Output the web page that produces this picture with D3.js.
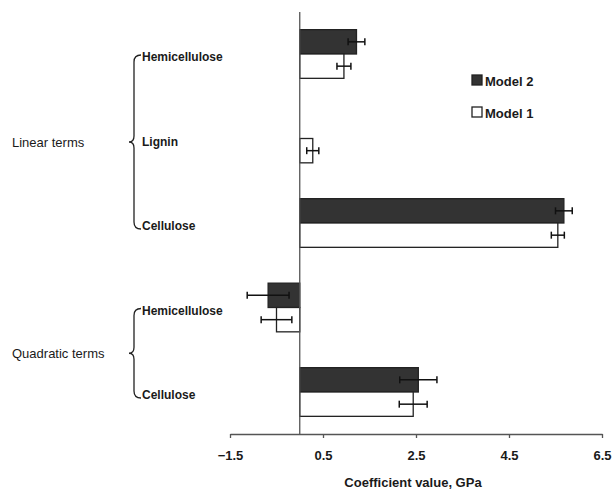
<!DOCTYPE html>
<html>
<head>
<meta charset="utf-8">
<script src="https://cdn.jsdelivr.net/npm/d3@7"></script>
<style>
  body { margin: 0; background: #fff; }
  text { font-family: "Liberation Sans", Arial, sans-serif; fill: #1a1a1a; }
</style>
</head>
<body>
<svg id="chart" width="612" height="491"></svg>
<script>
/* donnees */
var termes = ["lin_hemi", "lin_lignin", "lin_cell", "quad_hemi", "quad_cell"];
var etiquettes = ["Hemicellulose", "Lignin", "Cellulose", "Hemicellulose", "Cellulose"];
var model2 = [1.22, 0, 5.68, -0.68, 2.55];
var model2_err = [0.18, 0, 0.18, 0.45, 0.40];
var model1 = [0.95, 0.28, 5.55, -0.50, 2.44];
var model1_err = [0.15, 0.13, 0.14, 0.33, 0.30];
var ticks_x = [-1.5, 0.5, 2.5, 4.5, 6.5];
var groupes = [
    {nom: "Linear terms", de: 0, a: 2},
    {nom: "Quadratic terms", de: 3, a: 4}
];

var svg = d3.select("#chart");

var xScale = d3.scaleLinear().domain([-1.5, 6.5]).range([230, 602]);
var yScale = d3.scaleBand().domain(termes).range([12, 434])
    .paddingInner(0.424).paddingOuter(0.209);
var yModel = d3.scaleBand().domain(["m2", "m1"]).range([0, yScale.bandwidth()]);

/* axe des x */
var axeX = d3.axisBottom(xScale).tickValues(ticks_x).tickSize(4).tickSizeOuter(0)
    .tickFormat(d3.format(".1f"));
var gx = svg.append("g").attr("transform", "translate(0,434)").call(axeX);
gx.select(".domain").attr("stroke", "#555").attr("stroke-width", 1.3);
gx.selectAll(".tick line").attr("stroke", "#555").attr("stroke-width", 1.3);
gx.selectAll(".tick text")
    .attr("dy", "1.45em")
    .attr("font-size", 13).attr("font-weight", "bold")
    .attr("font-family", "Liberation Sans, Arial, sans-serif").attr("fill", "#1a1a1a");

svg.append("text")
    .attr("x", 413).attr("y", 487)
    .attr("text-anchor", "middle")
    .attr("font-size", 13).attr("font-weight", "bold")
    .text("Coefficient value, GPa");

/* barres */
var series = [
    {cle: "m2", vals: model2, errs: model2_err, fill: "#333"},
    {cle: "m1", vals: model1, errs: model1_err, fill: "#fff"}
];

series.forEach(function (s) {
    var g = svg.append("g");
    termes.forEach(function (t, i) {
        var v = s.vals[i];
        if (v === 0) return;
        var y0 = yScale(t) + yModel(s.cle);
        var h = yModel.bandwidth();
        g.append("rect")
            .attr("x", xScale(Math.min(0, v)))
            .attr("y", y0)
            .attr("width", Math.abs(xScale(v) - xScale(0)))
            .attr("height", h)
            .attr("fill", s.fill)
            .attr("stroke", "#222")
            .attr("stroke-width", 1.3);
        /* barre d erreur */
        var ym = y0 + h / 2;
        var xa = xScale(v - s.errs[i]), xb = xScale(v + s.errs[i]);
        g.append("line").attr("x1", xa).attr("x2", xb).attr("y1", ym).attr("y2", ym)
            .attr("stroke", "#111").attr("stroke-width", 1.5);
        [xa, xb].forEach(function (xx) {
            g.append("line").attr("x1", xx).attr("x2", xx).attr("y1", ym - 3.5).attr("y2", ym + 3.5)
                .attr("stroke", "#111").attr("stroke-width", 1.5);
        });
    });
});

/* ligne verticale du zero */
svg.append("line")
    .attr("x1", xScale(0)).attr("x2", xScale(0))
    .attr("y1", 12).attr("y2", 434)
    .attr("stroke", "#555").attr("stroke-width", 1.3);

/* etiquettes des categories */
svg.selectAll("text.cat")
    .data(termes)
    .enter()
    .append("text")
    .attr("class", "cat")
    .attr("x", 142)
    .attr("y", function (d) { return yScale(d) + yScale.bandwidth() / 2 + 3; })
    .attr("dy", "0.35em")
    .attr("font-size", 12).attr("font-weight", "bold")
    .text(function (d, i) { return etiquettes[i]; });

/* accolades et noms des groupes */
groupes.forEach(function (gr) {
    var yt = yScale(termes[gr.de]) + yScale.bandwidth() / 2 + 1;
    var yb = yScale(termes[gr.a]) + yScale.bandwidth() / 2 + 6;
    var ym = (yt + yb) / 2;
    var xs = 134, xe = 141, xt = 129;
    var p = "M " + xe + " " + yt +
        " Q " + xs + " " + yt + " " + xs + " " + (yt + 7) +
        " L " + xs + " " + (ym - 6) +
        " Q " + xs + " " + ym + " " + xt + " " + ym +
        " Q " + xs + " " + ym + " " + xs + " " + (ym + 6) +
        " L " + xs + " " + (yb - 7) +
        " Q " + xs + " " + yb + " " + xe + " " + yb;
    svg.append("path").attr("d", p).attr("fill", "none")
        .attr("stroke", "#222").attr("stroke-width", 1.3);
    svg.append("text")
        .attr("x", 12).attr("y", ym).attr("dy", "0.35em")
        .attr("font-size", 13)
        .text(gr.nom);
});

/* legende */
var legende = [
    {nom: "Model 2", fill: "#333", y: 75},
    {nom: "Model 1", fill: "#fff", y: 107}
];
legende.forEach(function (l) {
    svg.append("rect").attr("x", 472).attr("y", l.y).attr("width", 10).attr("height", 10)
        .attr("fill", l.fill).attr("stroke", "#222").attr("stroke-width", 1.3);
    svg.append("text").attr("x", 485).attr("y", l.y + 11)
        .attr("font-size", 13).attr("font-weight", "bold")
        .text(l.nom);
});
</script>
</body>
</html>
